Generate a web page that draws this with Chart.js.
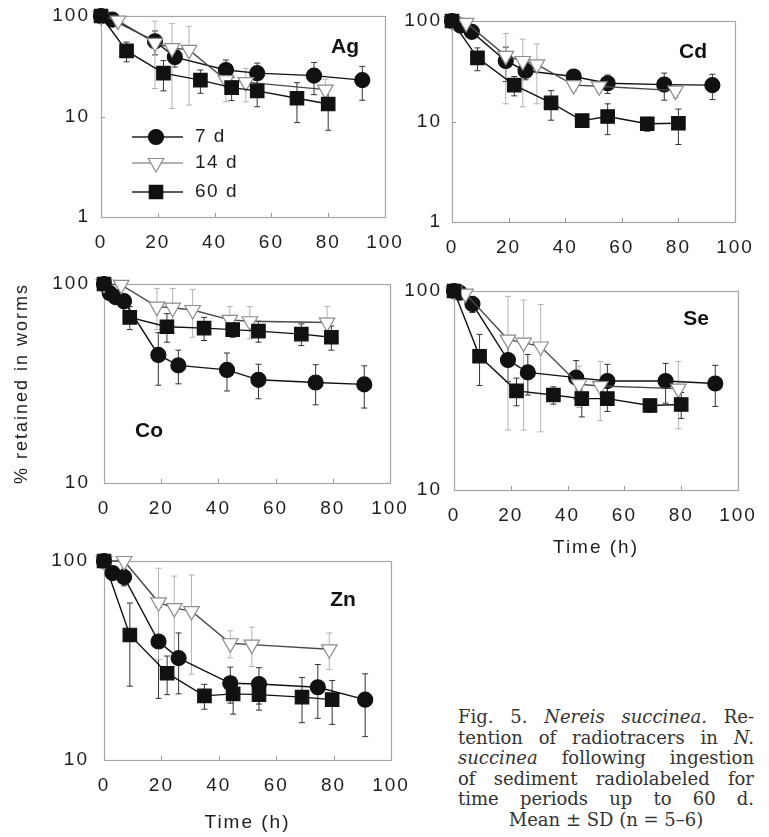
<!DOCTYPE html>
<html>
<head>
<meta charset="utf-8">
<script src="https://cdn.jsdelivr.net/npm/chart.js@4.4.0/dist/chart.umd.min.js"></script>
<style>
html,body{margin:0;padding:0;background:#fff;}
#wrap{position:relative;width:769px;height:837px;overflow:hidden;background:#fff;}
canvas.layer{position:absolute;left:0;top:0;}
#caption{position:absolute;left:458px;top:707px;width:296px;font-family:"DejaVu Serif",serif;font-size:18px;color:#333;}
.ln{display:flex;justify-content:space-between;height:20.5px;line-height:20.5px;white-space:nowrap;}
.ln.c{justify-content:center;}
</style>
</head>
<body>
<div id="wrap">
<div id="caption">
<div class="ln"><span>Fig.</span><span>5.</span><i>Nereis</i><i>succinea.</i><span>Re-</span></div>
<div class="ln"><span>tention</span><span>of</span><span>radiotracers</span><span>in</span><i>N.</i></div>
<div class="ln"><i>succinea</i><span>following</span><span>ingestion</span></div>
<div class="ln"><span>of</span><span>sediment</span><span>radiolabeled</span><span>for</span></div>
<div class="ln"><span>time</span><span>periods</span><span>up</span><span>to</span><span>60</span><span>d.</span></div>
<div class="ln c"><span>Mean ± SD (n = 5–6)</span></div>
</div>
</div>
<script>
// ---------- tick labels / categories ----------
const xTicks = [0, 20, 40, 60, 80, 100];
const yTicksWide = [1, 10, 100];
const yTicksNarrow = [10, 100];
const seriesLabels = ['7 d', '14 d', '60 d'];

// ---------- Ag ----------
const agT7  = [0, 4, 19, 26, 44, 55, 75, 92];
const agV7  = [100, 92, 56, 39, 29, 27, 25.5, 23];
const agSd7 = [0, 5, 15, 8, 7.5, 7, 9, 8.5];
const agT14  = [0, 6, 19, 25, 31, 44, 51, 79];
const agV14  = [100, 90, 54, 48, 46, 23, 22, 18.5];
const agSd14 = [0, 6, 35, 36, 33, 9, 8, 5];
const agT60  = [0, 9, 22, 35, 46, 55, 69, 80];
const agV60  = [100, 45, 27, 23, 19.4, 18, 15.2, 13.3];
const agSd60 = [0, 10, 9, 6, 5, 5.5, 6.5, 6];

// ---------- Cd ----------
const cdT7  = [0, 3, 7, 19, 26, 43, 55, 75, 92];
const cdV7  = [100, 90, 78, 40, 32, 28, 24, 23.3, 23];
const cdSd7 = [0, 5, 8, 15, 6, 3, 5, 7, 6.5];
const cdT14  = [0, 5, 19, 25, 30, 43, 52, 79];
const cdV14  = [100, 96, 45, 40, 37, 23, 22.4, 20.3];
const cdSd14 = [0, 4, 30, 26, 22, 3, 3, 3];
const cdT60  = [0, 9, 22, 35, 46, 55, 69, 80];
const cdV60  = [100, 43, 23, 15.3, 10.2, 11.2, 9.5, 9.6];
const cdSd60 = [0, 11, 5, 5, 1, 3.8, 1.5, 3.7];

// ---------- Co ----------
const coT7  = [0, 2, 4, 7, 19, 26, 43, 54, 74, 91];
const coV7  = [100, 90, 86, 82, 44, 39, 37, 33, 32, 31.3];
const coSd7 = [0, 4, 4, 5, 13, 7.5, 8, 6.5, 7.3, 7.5];
const coT14  = [0, 6, 18.5, 24, 31, 44, 51, 78];
const coV14  = [100, 99, 77, 76, 74, 66, 65, 64];
const coSd14 = [0, 3, 18, 19, 20, 11, 12, 13];
const coT60  = [0, 9, 22, 35, 45, 54, 69, 79.5];
const coV60  = [100, 68, 61, 60, 59, 58, 56, 54];
const coSd60 = [0, 9, 10, 8, 5, 7, 7, 7.5];

// ---------- Se ----------
const seT7  = [0, 2, 6.5, 19, 26, 43, 54, 74.5, 92];
const seV7  = [100, 98, 86, 45, 39, 36.7, 35.3, 35.3, 34.3];
const seSd7 = [0, 2, 8, 10, 9, 8, 7.5, 8, 8];
const seT14  = [0, 4, 19, 24.5, 30.5, 44, 51.5, 79];
const seV14  = [100, 97, 57, 55, 52.6, 34, 33.3, 32.3];
const seSd14 = [0, 3, 37, 35, 33, 8, 11, 12];
const seT60  = [0, 9, 22, 35, 45, 54, 69, 80];
const seV60  = [100, 47, 31.5, 30, 28.8, 28.8, 26.6, 26.9];
const seSd60 = [0, 13.5, 5, 3, 5.5, 4, 2, 4];

// ---------- Zn ----------
const znT7  = [0, 3, 7, 19, 26, 44, 54, 74.5, 91];
const znV7  = [100, 87, 83, 39.4, 32.5, 24.3, 24.1, 23.2, 20.1];
const znSd7 = [0, 5, 8, 19, 11, 5, 5, 7, 7];
const znT14  = [0, 7, 19, 24.5, 30.5, 44, 51.5, 78.5];
const znV14  = [100, 100, 62, 58, 56, 38.6, 38, 36];
const znSd14 = [0, 3, 30, 26, 29, 6, 8.5, 7.5];
const znT60  = [0, 9, 22, 35, 45, 54, 69, 79.5];
const znV60  = [100, 42.5, 27.3, 21, 21.5, 21.3, 20.7, 20.1];
const znSd60 = [0, 19, 6, 3, 4.5, 3.5, 5.3, 5];

// ---------- styling ----------
const W = 769, H = 837;
const FONT = '"Liberation Sans", Arial, Helvetica, sans-serif';
const LS = '2px';
const TXT = '#1e1e1e';
const styles = [
  {pointStyle:'circle',   radius:7.5, rotation:0,   fill:'#111', stroke:'#111',    line:'#111', legendLine:'#222', err:'#333',    order:3},
  {pointStyle:'triangle', radius:9,   rotation:180, fill:'#fff', stroke:'#8c8c8c', line:'#4a4a4a', legendLine:'#999', err:'#b3b3b3', order:2},
  {pointStyle:'rect',     radius:9.5, rotation:0,   fill:'#111', stroke:'#111',    line:'#111', legendLine:'#222', err:'#333',    order:1}
];

const panels = [
  {name:'Ag', area:{l:101,t:16,r:385,b:217}, yMin:1,  yTicks:yTicksWide,   yPad:11, lab:{x:345,y:53},
   series:[[agT7,agV7,agSd7],[agT14,agV14,agSd14],[agT60,agV60,agSd60]], legend:true},
  {name:'Cd', area:{l:452,t:21,r:735,b:222}, yMin:1,  yTicks:yTicksWide,   yPad:10, lab:{x:693,y:58},
   series:[[cdT7,cdV7,cdSd7],[cdT14,cdV14,cdSd14],[cdT60,cdV60,cdSd60]]},
  {name:'Co', area:{l:104,t:284,r:390,b:483}, yMin:10, yTicks:yTicksNarrow, yPad:14, lab:{x:149,y:437},
   series:[[coT7,coV7,coSd7],[coT14,coV14,coSd14],[coT60,coV60,coSd60]], yTitle:'% retained in worms'},
  {name:'Se', area:{l:454,t:291,r:738,b:490}, yMin:10, yTicks:yTicksNarrow, yPad:12, lab:{x:696,y:325},
   series:[[seT7,seV7,seSd7],[seT14,seV14,seSd14],[seT60,seV60,seSd60]], xTitle:'Time (h)', xTitleY:548},
  {name:'Zn', area:{l:104,t:561,r:391,b:760}, yMin:10, yTicks:yTicksNarrow, yPad:15, lab:{x:343,y:606},
   series:[[znT7,znV7,znSd7],[znT14,znV14,znSd14],[znT60,znV60,znSd60]], xTitle:'Time (h)', xTitleY:823}
];

function drawMarker(ctx, st, x, y) {
  ctx.beginPath();
  if (st.pointStyle === 'circle') {
    ctx.arc(x, y, st.radius, 0, Math.PI * 2);
  } else if (st.pointStyle === 'rect') {
    const h = st.radius * Math.SQRT1_2;
    ctx.rect(x - h, y - h, 2 * h, 2 * h);
  } else {
    let rad = st.rotation * Math.PI / 180;
    for (let k = 0; k < 3; k++) {
      const px = x + Math.sin(rad) * st.radius, py = y - Math.cos(rad) * st.radius;
      if (k) ctx.lineTo(px, py); else ctx.moveTo(px, py);
      rad += 2 * Math.PI / 3;
    }
    ctx.closePath();
  }
  ctx.fillStyle = st.fill; ctx.fill();
  ctx.strokeStyle = st.stroke; ctx.lineWidth = 1.2; ctx.stroke();
}

function makePlugin(p) {
  return {
    id: 'panel' + p.name,
    beforeDraw(chart) { chart.ctx.letterSpacing = LS; },
    beforeDatasetsDraw(chart) {
      const {ctx, chartArea: a, scales: {x, y}} = chart;
      ctx.save();
      ctx.fillStyle = '#fff';
      ctx.fillRect(a.left, a.top, a.right - a.left, a.bottom - a.top);
      ctx.strokeStyle = '#a6a6a6'; ctx.lineWidth = 1.2;
      ctx.strokeRect(Math.round(a.left) + 0.5, Math.round(a.top) + 0.5,
                     Math.round(a.right - a.left), Math.round(a.bottom - a.top));
      ctx.strokeStyle = '#9a9a9a'; ctx.lineWidth = 1;
      ctx.beginPath();
      xTicks.slice(1, -1).forEach(v => {
        const px = Math.round(x.getPixelForValue(v)) + 0.5;
        ctx.moveTo(px, a.bottom); ctx.lineTo(px, a.bottom - 4);
      });
      p.yTicks.slice(1, -1).forEach(v => {
        const py = Math.round(y.getPixelForValue(v)) + 0.5;
        ctx.moveTo(a.left, py); ctx.lineTo(a.left + 4, py);
      });
      ctx.stroke();
      chart.data.datasets.slice().sort((d1, d2) => d2.order - d1.order).forEach(ds => {
        ctx.strokeStyle = ds.errColor; ctx.lineWidth = 1;
        ds.data.forEach((pt, i) => {
          const s = ds.sd[i];
          if (!s) return;
          const px = x.getPixelForValue(pt.x);
          const hi = y.getPixelForValue(pt.y + s);
          const lo = y.getPixelForValue(Math.max(pt.y - s, y.min));
          ctx.beginPath();
          ctx.moveTo(px, hi); ctx.lineTo(px, lo);
          ctx.moveTo(px - 3, hi); ctx.lineTo(px + 3, hi);
          ctx.moveTo(px - 3, lo); ctx.lineTo(px + 3, lo);
          ctx.stroke();
        });
      });
      ctx.restore();
    },
    afterDraw(chart) {
      const ctx = chart.ctx;
      ctx.save();
      ctx.letterSpacing = '0px';
      ctx.fillStyle = '#111';
      ctx.font = 'bold 21px ' + FONT;
      ctx.textAlign = 'center'; ctx.textBaseline = 'alphabetic';
      ctx.fillText(p.name, p.lab.x, p.lab.y);
      if (p.legend) {
        const rows = [137, 163, 192];
        styles.forEach((st, k) => {
          const yy = rows[k];
          ctx.strokeStyle = st.legendLine; ctx.lineWidth = 1.5;
          ctx.beginPath(); ctx.moveTo(132, yy); ctx.lineTo(183, yy); ctx.stroke();
          drawMarker(ctx, st, 156, yy);
          ctx.letterSpacing = '1.5px';
          ctx.fillStyle = TXT; ctx.font = '19px ' + FONT;
          ctx.textAlign = 'left'; ctx.textBaseline = 'middle';
          ctx.fillText(seriesLabels[k], 195, yy);
        });
      }
      ctx.restore();
    }
  };
}

function buildChart(p) {
  const cv = document.createElement('canvas');
  cv.width = W; cv.height = H; cv.className = 'layer';
  cv.style.width = W + 'px'; cv.style.height = H + 'px';
  document.getElementById('wrap').appendChild(cv);
  const a = p.area;
  const xh = p.xTitle ? (p.xTitleY + 11.4 + 1 - a.b) : 45;
  const datasets = p.series.map((s, k) => {
    const st = styles[k];
    return {
      label: seriesLabels[k],
      data: s[0].map((t, i) => ({x: t, y: s[1][i]})),
      sd: s[2],
      errColor: st.err,
      borderColor: st.line, borderWidth: 1.4,
      pointStyle: st.pointStyle, pointRadius: st.radius, pointHoverRadius: st.radius,
      pointRotation: st.rotation,
      pointBackgroundColor: st.fill, pointBorderColor: st.stroke, pointBorderWidth: 1.2,
      order: st.order, clip: false, tension: 0, fill: false
    };
  });
  new Chart(cv, {
    type: 'line',
    data: {datasets},
    options: {
      responsive: false, animation: false, events: [],
      layout: {autoPadding: false, padding: {left: 0, top: a.t, right: W - a.r, bottom: H - a.b - xh}},
      plugins: {legend: {display: false}, tooltip: {enabled: false}},
      scales: {
        x: {
          type: 'linear', min: 0, max: 100,
          afterBuildTicks: s => { s.ticks = xTicks.map(v => ({value: v})); },
          ticks: {font: {family: FONT, size: 19}, color: TXT, padding: 14, maxRotation: 0,
                  autoSkip: false, callback: v => String(v)},
          grid: {display: false, drawTicks: false}, border: {display: false},
          title: p.xTitle ? {display: true, text: p.xTitle, font: {family: FONT, size: 19}, color: TXT,
                             padding: {top: 0, bottom: 1}} : {display: false},
          afterFit: s => { s.height = xh; s.paddingLeft = s.paddingRight = s.paddingTop = s.paddingBottom = 0; }
        },
        y: {
          type: 'logarithmic', min: p.yMin, max: 100,
          afterBuildTicks: s => { s.ticks = p.yTicks.map(v => ({value: v})); },
          ticks: {font: {family: FONT, size: 19}, color: TXT, padding: p.yPad,
                  autoSkip: false, callback: v => String(v)},
          grid: {display: false, drawTicks: false}, border: {display: false},
          title: p.yTitle ? {display: true, text: p.yTitle, font: {family: FONT, size: 18}, color: TXT,
                             padding: {top: 11, bottom: 0}} : {display: false},
          afterFit: s => { s.width = a.l; s.paddingLeft = s.paddingRight = s.paddingTop = s.paddingBottom = 0; }
        }
      }
    },
    plugins: [makePlugin(p)]
  });
}

panels.forEach(buildChart);
</script>
</body>
</html>
